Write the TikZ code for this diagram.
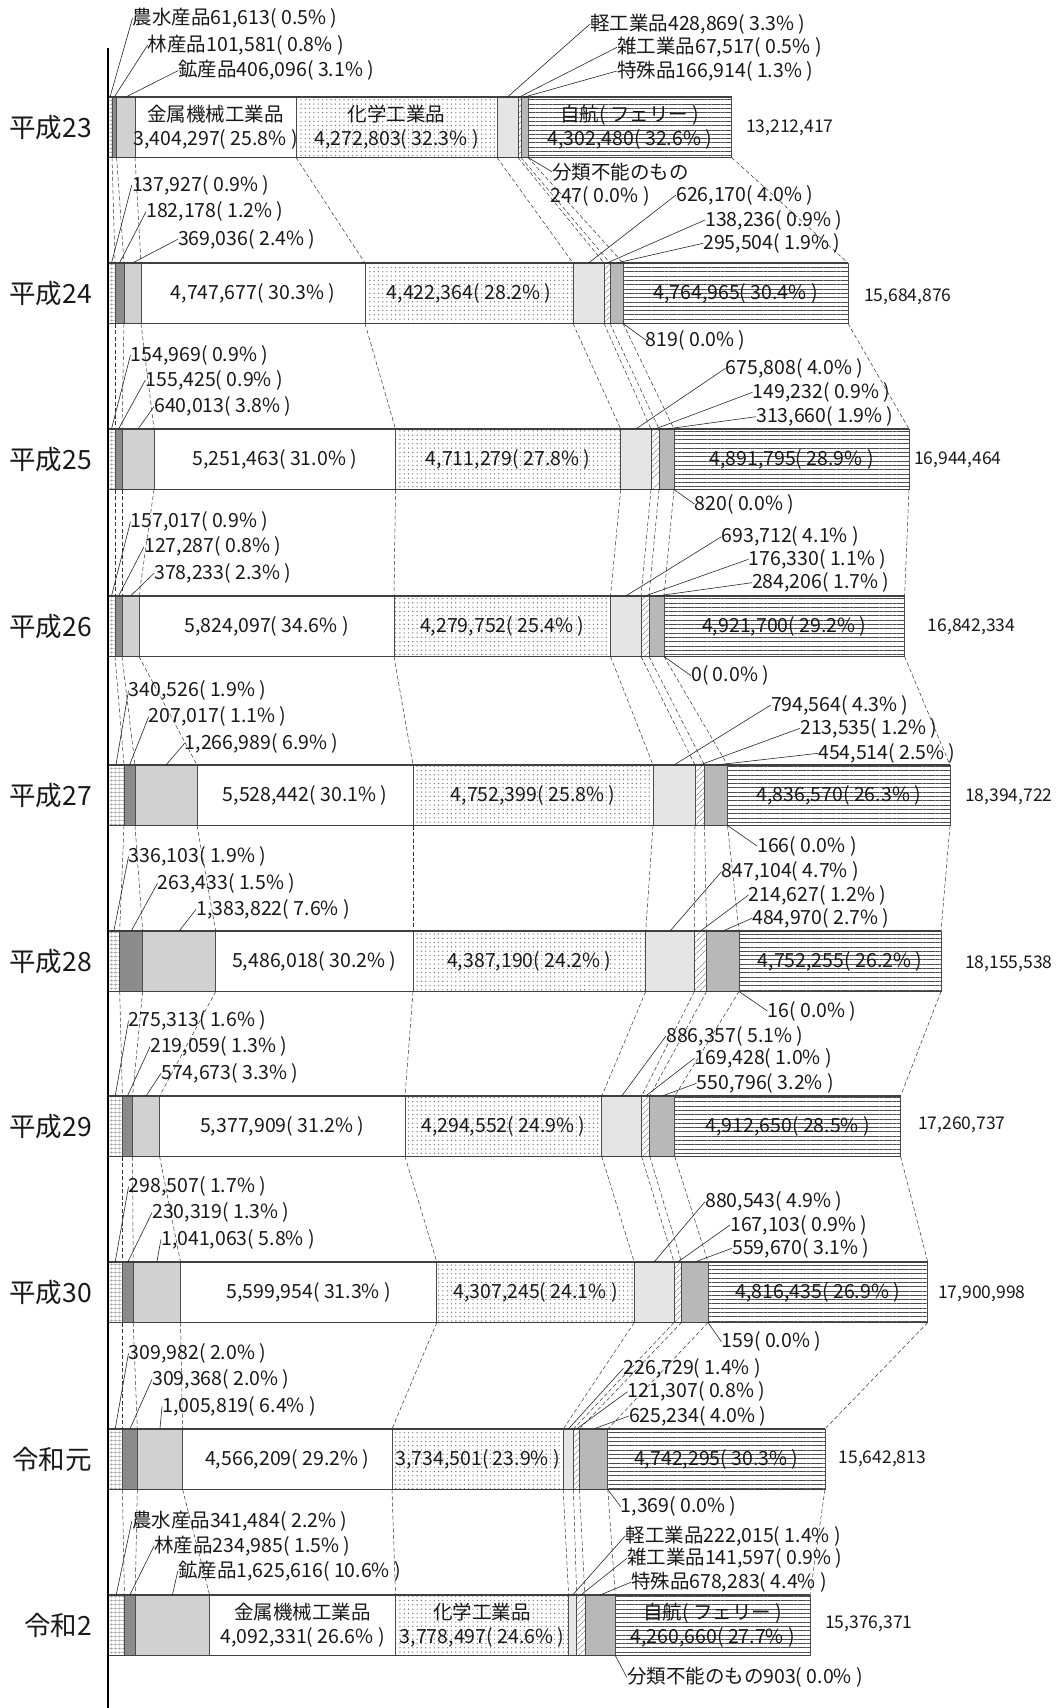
\documentclass[tikz,border=0pt]{standalone}
\usepackage{fontspec}
\setmainfont{Noto Sans CJK JP}
\usepackage{tikz}
\usetikzlibrary{patterns.meta}

\begin{document}
\begin{tikzpicture}[x=1pt,y=-1pt,
  seg/.style={draw=black!70,line width=0.7pt},
  nosui/.style={seg,pattern={Hatch[angle=0,distance=4pt,line width=0.4pt]},pattern color=black!45},
  rin/.style={seg,fill=black!45},
  kozan/.style={seg,fill=black!18},
  kinzoku/.style={seg,fill=white},
  kagaku/.style={seg,pattern={Dots[distance=4.3pt,radius=0.7pt]},pattern color=black!55},
  kei/.style={seg,fill=black!10},
  zatsu/.style={seg,pattern={Lines[angle=45,distance=4pt,line width=0.5pt]},pattern color=black!60},
  tokushu/.style={seg,fill=black!28},
  jiko/.style={seg,pattern={Lines[angle=0,distance=4.3pt,line width=0.7pt]},pattern color=black!70},
  edge/.style={draw=black!75,line width=1.2pt},
  conn/.style={draw=black!80,line width=0.5pt,dash pattern=on 4pt off 2.5pt},
  lead/.style={draw=black!85,line width=0.6pt},
  lbl/.style={anchor=west,inner sep=0pt,text=black!90,font=\fontsize{19.5}{24.5}\selectfont},
  tot/.style={anchor=west,inner sep=0pt,text=black!90,font=\fontsize{17.5}{20}\selectfont},
  inval/.style={inner sep=0pt,align=center,text=black!90,font=\fontsize{19.5}{24.5}\selectfont},
  year/.style={anchor=east,inner sep=0pt,text=black!90,font=\fontsize{26.5}{26.5}\selectfont}]
\fill[white] (0,0) rectangle (1060,1708);
\useasboundingbox (0,0) rectangle (1060,1708);

% bars: top y / boundaries (start, 農水, 林, 鉱, 金属, 化学, 軽, 雑, 特殊, 自航)
\foreach \r/\t/\xs in {
  1/97/{108,112,116.6,135,296,497,518,521,528,731.6},
  2/263/{108,115,124,141,365,573,604,610,623,848},
  3/429/{108,115,122,154,395.5,620.7,651,659,674,909},
  4/596/{108,115,122,139,394,610.5,641,649,664,904.6},
  5/765/{108,124,135,197,413,653,695,704.5,727.5,950},
  6/931/{108,119.7,142.7,215.7,413,645.7,694.4,706.6,739,941},
  7/1096/{108,122.4,132.5,159.6,405,601.8,641.6,649.8,674.8,900.6},
  8/1262/{108,122.4,133.2,180.5,436.8,634.2,674,681.5,708,927.7},
  9/1429/{108,122.4,137.3,182.6,392,563.2,573.4,579.4,607.8,824.9},
  10/1595/{108,124.4,135.2,209.6,395.5,568.6,576.7,584.9,615.3,810}}{
  \foreach [count=\k, remember=\x as \xp (initially 108)] \x in \xs {
    \coordinate (u\r-\k) at (\x,\t);
    \coordinate (v\r-\k) at (\x,\t+60.5);
    \coordinate (m\r-\k) at ({(\x+\xp)/2},\t);
    \coordinate (c\r-\k) at ({(\x+\xp)/2},\t+30.25);
  }
  \foreach \k/\sty in {2/nosui,3/rin,4/kozan,5/kinzoku,6/kagaku,7/kei,8/zatsu,9/tokushu,10/jiko}{
    \pgfmathtruncatemacro\kp{\k-1}
    \path[\sty] (u\r-\kp) rectangle (v\r-\k);
  }
  \draw[edge] (u\r-1) -- (u\r-10) (v\r-1) -- (v\r-10);
}

% dashed links between bars
\foreach \r [evaluate=\r as \rr using int(\r+1)] in {1,...,9}{
  \foreach \k in {2,...,10} \draw[conn] (v\r-\k) -- (u\rr-\k);
}

\draw[line width=2pt] (108,48) -- (108,1708);

% 平成23
\node[year] (y1) at (92,127.25) {平成23};
\node[lbl] (a1) at (132.5,18.3) {農水産品61,613( 0.5\% )};
\node[lbl] (b1) at (147.7,45) {林産品101,581( 0.8\% )};
\node[lbl] (c1) at (178,70.7) {鉱産品406,096( 3.1\% )};
\node[lbl] (d1) at (590,24) {軽工業品428,869( 3.3\% )};
\node[lbl] (e1) at (617,47.3) {雑工業品67,517( 0.5\% )};
\node[lbl] (f1) at (617,71) {特殊品166,914( 1.3\% )};
\node[lbl] (g1) at (552,171.7) {分類不能のもの};
\node[lbl] (g1n) at (550,196) {247( 0.0\% )};
\node[inval] (k1) at (c1-5) {金属機械工業品\\3,404,297( 25.8\% )};
\node[inval] (h1) at (c1-6) {化学工業品\\4,272,803( 32.3\% )};
\node[inval] (j1) at (c1-10) {自航( フェリー )\\4,302,480( 32.6\% )};
\node[tot] (s1) at (746,128) {13,212,417};
\draw[lead] (a1.west) -- (m1-2) (b1.west) -- (m1-3) (c1.west) -- (m1-4);
\draw[lead] (d1.west) -- (m1-7) (e1.west) -- (m1-8) (f1.west) -- (m1-9);
\draw[lead] (v1-9) -- (g1.west);

% 平成24
\node[year] (y2) at (92,293.25) {平成24};
\node[lbl] (a2) at (131.8,185) {137,927( 0.9\% )};
\node[lbl] (b2) at (146,211.7) {182,178( 1.2\% )};
\node[lbl] (c2) at (177.8,239.3) {369,036( 2.4\% )};
\node[lbl] (d2) at (676,195) {626,170( 4.0\% )};
\node[lbl] (e2) at (705,220) {138,236( 0.9\% )};
\node[lbl] (f2) at (703,243.3) {295,504( 1.9\% )};
\node[lbl] (g2) at (645.7,340) {819( 0.0\% )};
\node[inval] (k2) at (c2-5) {4,747,677( 30.3\% )};
\node[inval] (h2) at (c2-6) {4,422,364( 28.2\% )};
\node[inval] (j2) at (c2-10) {4,764,965( 30.4\% )};
\node[tot] (s2) at (864,296.7) {15,684,876};
\draw[lead] (a2.west) -- (m2-2) (b2.west) -- (m2-3) (c2.west) -- (m2-4);
\draw[lead] (d2.west) -- (m2-7) (e2.west) -- (m2-8) (f2.west) -- (m2-9);
\draw[lead] (v2-9) -- (g2.west);

% 平成25
\node[year] (y3) at (92,459.25) {平成25};
\node[lbl] (a3) at (130.5,355) {154,969( 0.9\% )};
\node[lbl] (b3) at (145.4,380) {155,425( 0.9\% )};
\node[lbl] (c3) at (154,406.7) {640,013( 3.8\% )};
\node[lbl] (d3) at (725.5,368.3) {675,808( 4.0\% )};
\node[lbl] (e3) at (752.5,392.3) {149,232( 0.9\% )};
\node[lbl] (f3) at (756,416.7) {313,660( 1.9\% )};
\node[lbl] (g3) at (694.4,504) {820( 0.0\% )};
\node[inval] (k3) at (c3-5) {5,251,463( 31.0\% )};
\node[inval] (h3) at (c3-6) {4,711,279( 27.8\% )};
\node[inval] (j3) at (c3-10) {4,891,795( 28.9\% )};
\node[tot] (s3) at (914,460) {16,944,464};
\draw[lead] (a3.west) -- (m3-2) (b3.west) -- (m3-3) (c3.west) -- (m3-4);
\draw[lead] (d3.west) -- (m3-7) (e3.west) -- (m3-8) (f3.west) -- (m3-9);
\draw[lead] (v3-9) -- (g3.west);

% 平成26
\node[year] (y4) at (92,626.25) {平成26};
\node[lbl] (a4) at (130.5,521.7) {157,017( 0.9\% )};
\node[lbl] (b4) at (144,546.7) {127,287( 0.8\% )};
\node[lbl] (c4) at (154,573.3) {378,233( 2.3\% )};
\node[lbl] (d4) at (721.4,536.7) {693,712( 4.1\% )};
\node[lbl] (e4) at (748.5,559.3) {176,330( 1.1\% )};
\node[lbl] (f4) at (751.9,582.7) {284,206( 1.7\% )};
\node[lbl] (g4) at (691,675.7) {0( 0.0\% )};
\node[inval] (k4) at (c4-5) {5,824,097( 34.6\% )};
\node[inval] (h4) at (c4-6) {4,279,752( 25.4\% )};
\node[inval] (j4) at (c4-10) {4,921,700( 29.2\% )};
\node[tot] (s4) at (927.7,626.7) {16,842,334};
\draw[lead] (a4.west) -- (m4-2) (b4.west) -- (m4-3) (c4.west) -- (m4-4);
\draw[lead] (d4.west) -- (m4-7) (e4.west) -- (m4-8) (f4.west) -- (m4-9);
\draw[lead] (v4-9) -- (g4.west);

% 平成27
\node[year] (y5) at (92,795.25) {平成27};
\node[lbl] (a5) at (128.5,690.7) {340,526( 1.9\% )};
\node[lbl] (b5) at (148.7,716.7) {207,017( 1.1\% )};
\node[lbl] (c5) at (184.6,743.3) {1,266,989( 6.9\% )};
\node[lbl] (d5) at (770.8,705) {794,564( 4.3\% )};
\node[lbl] (e5) at (800,728.3) {213,535( 1.2\% )};
\node[lbl] (f5) at (818,753.3) {454,514( 2.5\% )};
\node[lbl] (g5) at (757,846) {166( 0.0\% )};
\node[inval] (k5) at (c5-5) {5,528,442( 30.1\% )};
\node[inval] (h5) at (c5-6) {4,752,399( 25.8\% )};
\node[inval] (j5) at (c5-10) {4,836,570( 26.3\% )};
\node[tot] (s5) at (965,796.7) {18,394,722};
\draw[lead] (a5.west) -- (m5-2) (b5.west) -- (m5-3) (c5.west) -- (m5-4);
\draw[lead] (d5.west) -- (m5-7) (e5.west) -- (m5-8) (f5.west) -- (m5-9);
\draw[lead] (v5-9) -- (g5.west);

% 平成28
\node[year] (y6) at (92,961.25) {平成28};
\node[lbl] (a6) at (128.5,856.7) {336,103( 1.9\% )};
\node[lbl] (b6) at (157.5,883.3) {263,433( 1.5\% )};
\node[lbl] (c6) at (196,909.3) {1,383,822( 7.6\% )};
\node[lbl] (d6) at (721.4,871.7) {847,104( 4.7\% )};
\node[lbl] (e6) at (748.5,895) {214,627( 1.2\% )};
\node[lbl] (f6) at (752,918.3) {484,970( 2.7\% )};
\node[lbl] (g6) at (767.4,1011) {16( 0.0\% )};
\node[inval] (k6) at (c6-5) {5,486,018( 30.2\% )};
\node[inval] (h6) at (c6-6) {4,387,190( 24.2\% )};
\node[inval] (j6) at (c6-10) {4,752,255( 26.2\% )};
\node[tot] (s6) at (965,963.3) {18,155,538};
\draw[lead] (a6.west) -- (m6-2) (b6.west) -- (m6-3) (c6.west) -- (m6-4);
\draw[lead] (d6.west) -- (m6-7) (e6.west) -- (m6-8) (f6.west) -- (m6-9);
\draw[lead] (v6-9) -- (g6.west);

% 平成29
\node[year] (y7) at (92,1126.25) {平成29};
\node[lbl] (a7) at (128.5,1020.7) {275,313( 1.6\% )};
\node[lbl] (b7) at (150,1046.7) {219,059( 1.3\% )};
\node[lbl] (c7) at (161,1073.3) {574,673( 3.3\% )};
\node[lbl] (d7) at (666,1036) {886,357( 5.1\% )};
\node[lbl] (e7) at (694.4,1058.3) {169,428( 1.0\% )};
\node[lbl] (f7) at (696.4,1083.3) {550,796( 3.2\% )};
\node[inval] (k7) at (c7-5) {5,377,909( 31.2\% )};
\node[inval] (h7) at (c7-6) {4,294,552( 24.9\% )};
\node[inval] (j7) at (c7-10) {4,912,650( 28.5\% )};
\node[tot] (s7) at (918,1125) {17,260,737};
\draw[lead] (a7.west) -- (m7-2) (b7.west) -- (m7-3) (c7.west) -- (m7-4);
\draw[lead] (d7.west) -- (m7-7) (e7.west) -- (m7-8) (f7.west) -- (m7-9);

% 平成30
\node[year] (y8) at (92,1292.25) {平成30};
\node[lbl] (a8) at (128.5,1186.7) {298,507( 1.7\% )};
\node[lbl] (b8) at (152,1212.7) {230,319( 1.3\% )};
\node[lbl] (c8) at (161,1239.3) {1,041,063( 5.8\% )};
\node[lbl] (d8) at (705,1201.7) {880,543( 4.9\% )};
\node[lbl] (e8) at (730,1225) {167,103( 0.9\% )};
\node[lbl] (f8) at (732,1248.3) {559,670( 3.1\% )};
\node[lbl] (g8) at (721.4,1341.7) {159( 0.0\% )};
\node[inval] (k8) at (c8-5) {5,599,954( 31.3\% )};
\node[inval] (h8) at (c8-6) {4,307,245( 24.1\% )};
\node[inval] (j8) at (c8-10) {4,816,435( 26.9\% )};
\node[tot] (s8) at (937.8,1293.3) {17,900,998};
\draw[lead] (a8.west) -- (m8-2) (b8.west) -- (m8-3) (c8.west) -- (m8-4);
\draw[lead] (d8.west) -- (m8-7) (e8.west) -- (m8-8) (f8.west) -- (m8-9);
\draw[lead] (v8-9) -- (g8.west);

% 令和元
\node[year] (y9) at (92,1459.25) {令和元};
\node[lbl] (a9) at (128.5,1353.3) {309,982( 2.0\% )};
\node[lbl] (b9) at (152,1379.3) {309,368( 2.0\% )};
\node[lbl] (c9) at (162,1406.7) {1,005,819( 6.4\% )};
\node[lbl] (d9) at (623.4,1368.3) {226,729( 1.4\% )};
\node[lbl] (e9) at (627.5,1391.7) {121,307( 0.8\% )};
\node[lbl] (f9) at (628.8,1416) {625,234( 4.0\% )};
\node[lbl] (g9) at (620.7,1506.7) {1,369( 0.0\% )};
\node[inval] (k9) at (c9-5) {4,566,209( 29.2\% )};
\node[inval] (h9) at (c9-6) {3,734,501( 23.9\% )};
\node[inval] (j9) at (c9-10) {4,742,295( 30.3\% )};
\node[tot] (s9) at (838.4,1458.3) {15,642,813};
\draw[lead] (a9.west) -- (m9-2) (b9.west) -- (m9-3) (c9.west) -- (m9-4);
\draw[lead] (d9.west) -- (m9-7) (e9.west) -- (m9-8) (f9.west) -- (m9-9);
\draw[lead] (v9-9) -- (g9.west);

% 令和2
\node[year] (y10) at (92,1625.25) {令和2};
\node[lbl] (a10) at (131.8,1521) {農水産品341,484( 2.2\% )};
\node[lbl] (b10) at (154.2,1545.7) {林産品234,985( 1.5\% )};
\node[lbl] (c10) at (177.8,1571) {鉱産品1,625,616( 10.6\% )};
\node[lbl] (d10) at (625.4,1535.7) {軽工業品222,015( 1.4\% )};
\node[lbl] (e10) at (626.8,1558.3) {雑工業品141,597( 0.9\% )};
\node[lbl] (f10) at (630.8,1582.3) {特殊品678,283( 4.4\% )};
\node[lbl] (g10) at (626.8,1677.3) {分類不能のもの903( 0.0\% )};
\node[inval] (k10) at (c10-5) {金属機械工業品\\4,092,331( 26.6\% )};
\node[inval] (h10) at (c10-6) {化学工業品\\3,778,497( 24.6\% )};
\node[inval] (j10) at (c10-10) {自航( フェリー )\\4,260,660( 27.7\% )};
\node[tot] (s10) at (825,1623.3) {15,376,371};
\draw[lead] (a10.west) -- (m10-2) (b10.west) -- (m10-3) (c10.west) -- (m10-4);
\draw[lead] (d10.west) -- (m10-7) (e10.west) -- (m10-8) (f10.west) -- (m10-9);
\draw[lead] (v10-9) -- (g10.west);
\end{tikzpicture}
\end{document}
